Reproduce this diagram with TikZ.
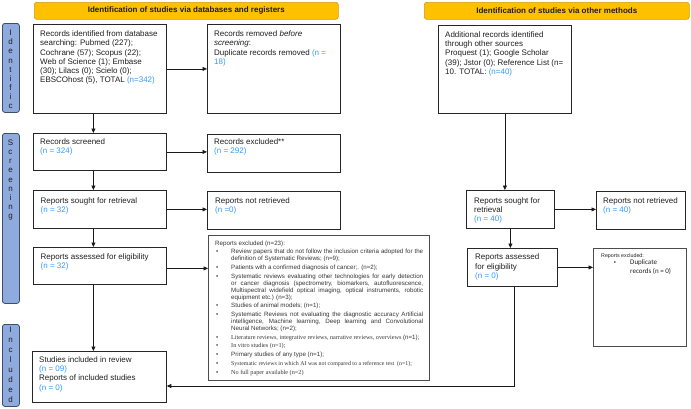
\documentclass[tikz,border=0pt]{standalone}
\usepackage{fontspec}
\setmainfont{Liberation Sans}
\newfontfamily\serifx{Liberation Serif}
\newfontfamily\calib{Carlito}
\usetikzlibrary{arrows.meta}
\definecolor{nblue}{RGB}{51,153,255}
\definecolor{hdrfill}{RGB}{255,192,0}
\definecolor{hdrdraw}{RGB}{205,155,20}
\definecolor{sidefill}{RGB}{143,170,220}
\definecolor{sidedraw}{RGB}{60,78,108}
\definecolor{txtc}{RGB}{30,30,30}
\newcommand\nb[1]{\textcolor{nblue}{#1}}
\newcommand\bul{\par\hangindent=16pt\hangafter=1\noindent\makebox[16pt][l]{\hspace{1pt}\textbullet}}
\begin{document}
\begin{tikzpicture}[x=1pt,y=-1pt,
  box/.style={draw=black!85, line width=0.8pt, anchor=north west, inner sep=0pt},
  hdr/.style={draw=hdrdraw, fill=hdrfill, rounded corners=2.5pt, line width=0.6pt, anchor=north west, inner sep=0pt, text=txtc, font=\fontsize{8}{9}\selectfont\bfseries},
  side/.style={draw=sidedraw, fill=sidefill, rounded corners=2.5pt, line width=0.8pt, anchor=north west, inner sep=0pt, minimum width=17pt},
  sidetxt/.style={anchor=north, inner sep=0pt, align=center, text=txtc},
  txt/.style={anchor=north west, inner sep=0pt, align=left, text=txtc, font=\fontsize{8}{9.3}\selectfont},
  arr/.style={-{Triangle[length=4.5pt,width=4pt]}, line width=0.7pt, draw=black!90},
]
\useasboundingbox (0,0) rectangle (691,408);

% headers
\node[hdr, minimum width=304pt, minimum height=17pt] (h1) at (34,2) {Identification of studies via databases and registers};
\node[hdr, minimum width=265pt, minimum height=17pt] (h2) at (424,2) {Identification of studies via other methods};

% side labels
\node[side, minimum height=89pt] (s1) at (2,23) {};
\node[side, minimum height=170pt] (s2) at (2,133) {};
\node[side, minimum height=82pt] (s3) at (2,324) {};
\node[sidetxt, font=\fontsize{8}{9.15}\selectfont] (l1) at (10.5,29.9) {I\\d\\e\\n\\t\\i\\f\\i\\c};
\node[sidetxt, font=\fontsize{8}{9.2}\selectfont] (l2) at (10.5,139.6) {S\\c\\r\\e\\e\\n\\i\\n\\g};
\node[sidetxt, font=\fontsize{8}{10}\selectfont] (l3) at (10.5,327) {I\\n\\c\\l\\u\\d\\e\\d};

% left column boxes
\node[box, minimum width=133pt, minimum height=89pt] (b1) at (33,24) {};
\node[box, minimum width=133pt, minimum height=89pt] (b2) at (207,24) {};
\node[box, minimum width=133pt, minimum height=37pt] (b3) at (33,133) {};
\node[box, minimum width=133pt, minimum height=38pt] (b4) at (207,134) {};
\node[box, minimum width=133pt, minimum height=38pt] (b5) at (33,190) {};
\node[box, minimum width=133pt, minimum height=38pt] (b6) at (207,191) {};
\node[box, minimum width=133pt, minimum height=37pt] (b7) at (33,247) {};
\node[box, draw=black!70, minimum width=221pt, minimum height=145pt] (b8) at (208,235) {};
\node[box, minimum width=134pt, minimum height=51pt] (b9) at (32,351) {};

% right column boxes
\node[box, minimum width=133pt, minimum height=88pt] (r1) at (438,25) {};
\node[box, minimum width=88pt, minimum height=38pt] (r2) at (466,190) {};
\node[box, minimum width=89pt, minimum height=38pt] (r4) at (596,191) {};
\node[box, minimum width=90pt, minimum height=38pt] (r3) at (467,248) {};
\node[box, draw=black!70, minimum width=93pt, minimum height=98pt] (r5) at (593,248) {};

% texts
\node[txt] (t1) at (40,30.4) {Records identified from database\\searching: Pubmed (227);\\Cochrane (57); Scopus (22);\\Web of Science (1); Embase\\(30); Lilacs (0); Scielo (0);\\EBSCOhost (5), TOTAL \nb{(n=342)}};
\node[txt] (t2) at (214,30.4) {Records removed \textit{before}\\\textit{screening}:\\Duplicate records removed \nb{(n =}\\\nb{18)}};
\node[txt] (t3) at (40,138.2) {Records screened\\\nb{(n = 324)}};
\node[txt] (t4) at (214,138.2) {Records excluded**\\\nb{(n = 292)}};
\node[txt] (t5) at (40.5,197.2) {Reports sought for retrieval\\\nb{(n = 32)}};
\node[txt] (t6) at (215,197.6) {Reports not retrieved\\\nb{(n =0)}};
\node[txt] (t7) at (40.5,253.2) {Reports assessed for eligibility\\\nb{(n = 32)}};
\node[txt] (t9) at (39,356.2) {Studies included in review\\\nb{(n = 09)}\\Reports of included studies\\\nb{(n = 0)}};
\node[txt] (r1t) at (445,31.2) {Additional records identified\\through other sources\\Proquest (1); Google Scholar\\(39); Jstor (0); Reference List (n=\\10. TOTAL: \nb{(n=40)}};
\node[txt] (r2t) at (474,197.2) {Reports sought for\\retrieval\\\nb{(n = 40)}};
\node[txt] (r4t) at (603,197.6) {Reports not retrieved\\\nb{(n = 40)}};
\node[txt] (r3t) at (475,253.8) {Reports assessed\\for eligibility\\\nb{(n = 0)}};

% exclusion list
\node[anchor=north west, inner sep=0pt, text width=208pt, align=justify, text=txtc!90,
      font=\fontsize{6.2}{7}\selectfont] (t8) at (215,240.4) {\parindent=0pt\parskip=1.7pt\hyphenpenalty=10000\exhyphenpenalty=10000\tolerance=10000\noindent
Reports excluded (n=23):
\bul Review papers that do not follow the inclusion criteria adopted for the\linebreak definition of Systematic Reviews; (n=9);
\bul Patients with a confirmed diagnosis of cancer;. (n=2);
\bul Systematic reviews evaluating other technologies for early detection\linebreak or cancer diagnosis (spectrometry, biomarkers, autofluorescence,\linebreak Multispectral widefield optical imaging, optical instruments, robotic\linebreak equipment etc.) (n=3);
\bul Studies of animal models; (n=1);
\bul Systematic Reviews not evaluating the diagnostic accuracy Artificial\linebreak intelligence, Machine learning, Deep learning and Convolutional\linebreak Neural Networks; (n=2);
\bul {\serifx Literature reviews, integrative reviews, narrative reviews, overviews }(n=1);
\bul {\serifx In vitro studies (n=1);}
\bul Primary studies of any type (n=1);
\bul {\serifx\fontsize{5.9}{7}\selectfont Systematic reviews in which AI was not compared to a reference test\ \ (n=1);}
\bul {\serifx No full paper available (n=2)}\par};

\node[anchor=north west, inner sep=0pt, text=txtc, font=\fontsize{5.3}{6.5}\selectfont] (r5t) at (601,253.2) {Reports excluded:};
\node[inner sep=0pt, text=txtc, font=\fontsize{6}{6.5}\selectfont] (r5b) at (615,263) {\textbullet};
\node[anchor=north west, inner sep=0pt, align=left, text=txtc, font=\calib\fontsize{7}{9}\selectfont] (r5u) at (630,259.8) {Duplicate\\records (n = 0)};

% connectors
\draw[arr] (b1.east) -- (b1.east -| b2.west);
\draw[arr] ([xshift=-6.5pt]b1.south) -- ([xshift=-6.5pt]b3.north);
\draw[arr] (b3.east) -- (b3.east -| b4.west);
\draw[arr] ([xshift=-6.5pt]b3.south) -- ([xshift=-6.5pt]b5.north);
\draw[arr] (b5.east) -- (b5.east -| b6.west);
\draw[arr] ([xshift=-6.5pt]b5.south) -- ([xshift=-6.5pt]b7.north);
\draw[arr] ([yshift=-2.5pt]b7.east) -- ([yshift=-2.5pt]b7.east -| b8.west);
\draw[arr] ([xshift=-6.5pt]b7.south) -- ([xshift=-6.5pt]b7.south |- b9.north);

\draw[arr] (r1.south) -- (r1.south |- r2.north);
\draw[arr] (r2.east) -- (r2.east -| r4.west);
\draw[arr] (r2.south) -- (r2.south |- r3.north);
\draw[arr] (r3.east) -- (r3.east -| r5.west);
\coordinate (c1) at (514,386);
\draw[arr] (r3.south -| c1) -- (c1) -- (c1 -| b9.east);
\end{tikzpicture}
\end{document}
